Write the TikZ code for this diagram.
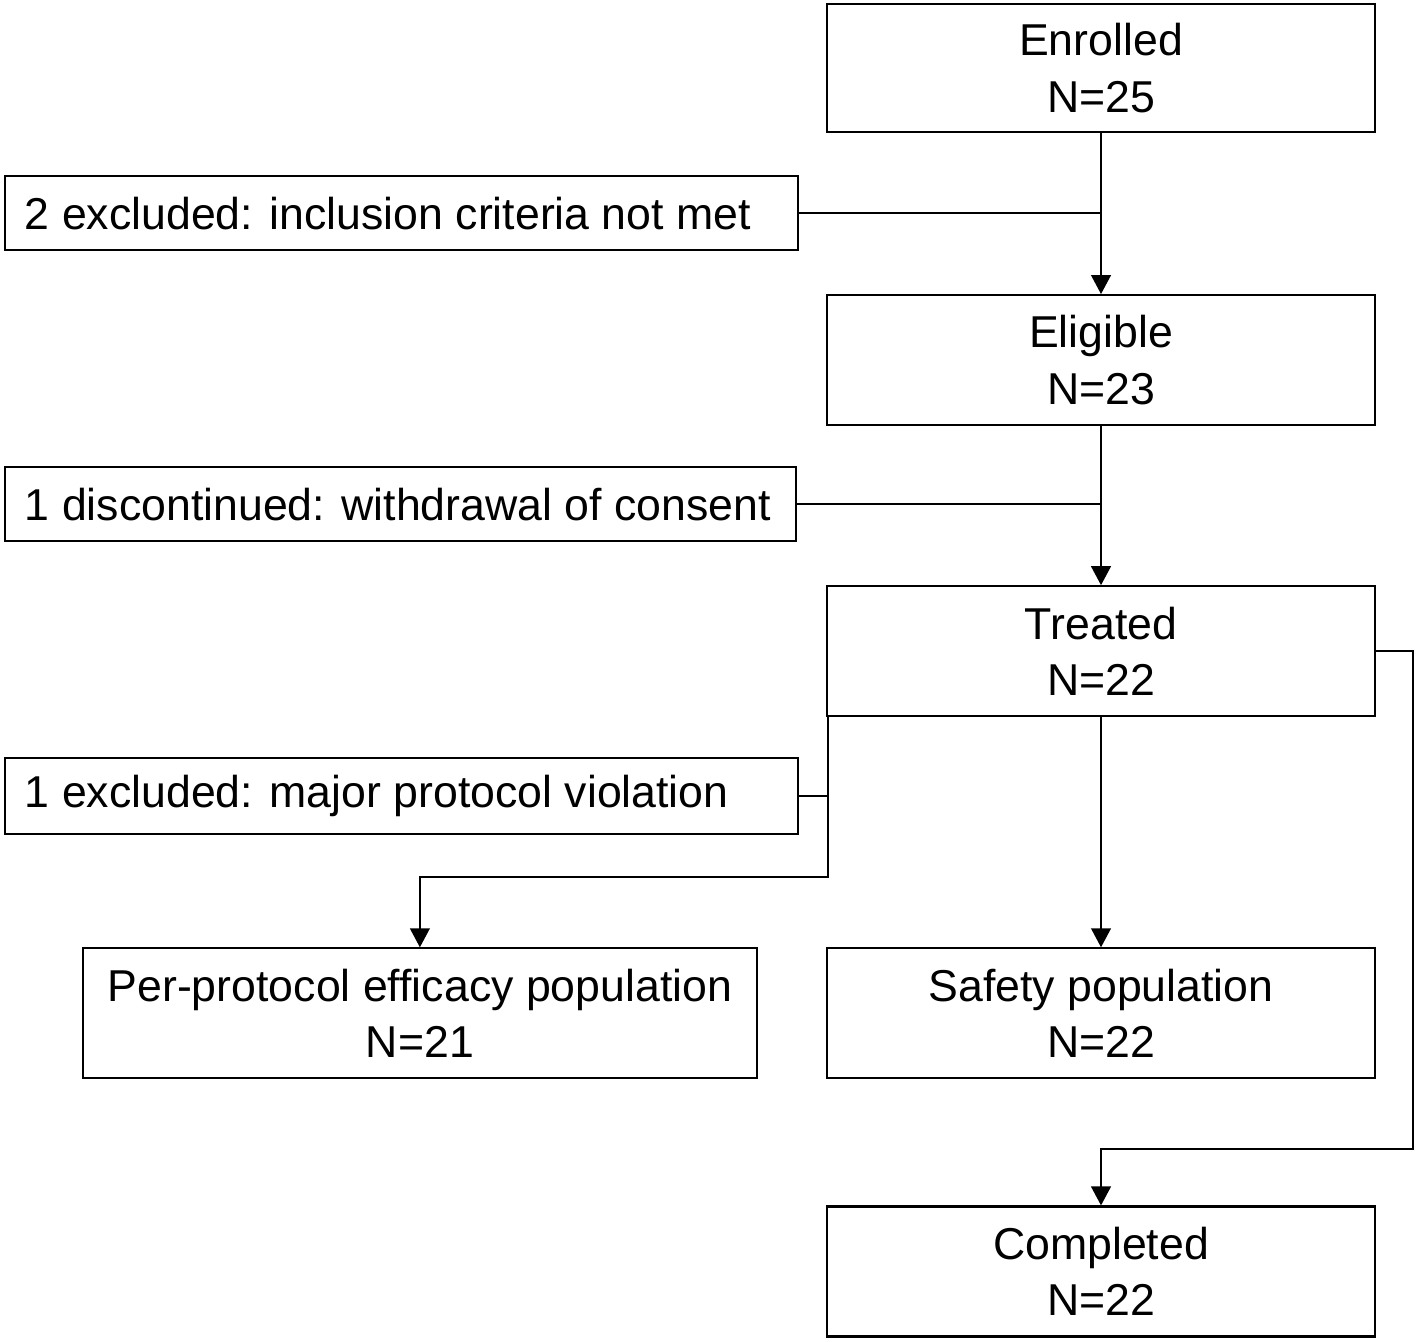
\documentclass[tikz,border=0pt]{standalone}
\usepackage{fontspec}
\setmainfont{Liberation Sans}
\usepackage{tikz}
\usetikzlibrary{arrows.meta,positioning}

\begin{document}
\begin{tikzpicture}[
  font=\fontsize{12.7pt}{16pt}\selectfont,
  line width=0.6pt,
  stage/.style={draw, align=center, minimum height=13mm, minimum width=54.8mm, inner sep=0pt},
  reason/.style={draw, align=flush left, text width=75.3mm, minimum height=7.4mm, inner xsep=2mm, inner ysep=0pt},
  arrow/.style={-{Triangle[width=5.6pt,length=5.4pt]}},
  link/.style={-}
]
\useasboundingbox (0,0) rectangle (14.18,-13.41);

\node[stage, minimum height=12.8mm] (enrolled) at (11.01,-0.68) {Enrolled\\N=25};
\node[stage, below=16.1mm of enrolled] (eligible) {Eligible\\N=23};
\node[stage, below=15.9mm of eligible] (treated) {Treated\\N=22};
\node[stage, below=23mm of treated] (safety) {Safety population\\N=22};
\node[stage, below=12.6mm of safety] (completed) {Completed\\N=22};
\node[stage, minimum width=67.4mm, left=6.8mm of safety] (perprotocol) {Per-protocol efficacy population\\N=21};

\node[reason, below left=4.2mm and 2.7mm of enrolled.south west] (notmet) {2 excluded: inclusion criteria not met};
\node[reason, text width=75.1mm, below left=4mm and 2.9mm of eligible.south west] (consent) {1 discontinued: withdrawal of consent};
\node[reason, minimum height=7.6mm, below left=4mm and 2.7mm of treated.south west] (violation) {1 excluded: major protocol violation};

\coordinate (split) at ([xshift=0.2mm]treated.south west);
\coordinate (loop) at ([yshift=5.6mm]completed.north);

\draw[arrow] (enrolled) -- (eligible);
\draw[link] (notmet.east) -- (notmet.east -| enrolled.south);
\draw[arrow] (eligible) -- (treated);
\draw[link] (consent.east) -- (consent.east -| eligible.south);
\draw[arrow] (treated) -- (safety);
\draw[arrow] (split) -- ++(0,-16mm) -| (perprotocol.north);
\draw[link] (violation.east) -- (violation.east -| split);
\draw[arrow] (treated.east) -- ++(3.7mm,0) |- (loop) -- (completed.north);
\end{tikzpicture}
\end{document}
